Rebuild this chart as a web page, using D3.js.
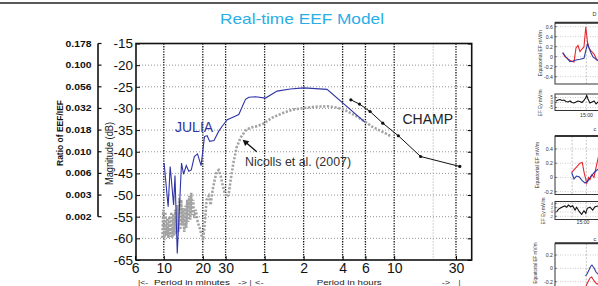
<!DOCTYPE html>
<html><head><meta charset="utf-8">
<script src="https://cdn.jsdelivr.net/npm/d3@7"></script>
<style>
body{margin:0;background:#fff;}
svg{display:block;font-family:"Liberation Sans",Arial,Helvetica,sans-serif;}
</style>
</head><body>
<svg id="c" width="598" height="286"></svg>
<script>
// ---------------- main chart data ----------------
const periodTicks = [6, 10, 20, 30, 60, 120, 240, 360, 600, 1800];          // minutes
const periodTickLabels = ["6", "10", "20", "30", "1", "2", "4", "6", "10", "30"];
const majorGridPeriods = [10, 20, 30, 60, 120, 240, 360, 600, 1800];
const minorGridPeriods = [1200];
const dbTicks = [-15, -20, -25, -30, -35, -40, -45, -50, -55, -60, -65];
const ratioDb = [-15, -20, -25, -30, -35, -40, -45, -50, -55];
const ratioLabels = ["0.178", "0.100", "0.056", "0.032", "0.018", "0.010", "0.006", "0.003", "0.002"];

const juliaPeriod = [10.05, 10.8, 11.2, 11.9, 12.2, 12.7, 13.7, 14.2, 14.9, 15.6, 16.3, 17.2, 18.2, 19.4,
  20.6, 21.6, 22.6, 24.4, 26.5, 28.4, 30.9, 34.8, 37.9, 42.7, 45.3, 51.0, 60.9, 74.9, 94.8, 120, 182, 358];
const juliaDb = [-42.6, -52.7, -43.4, -52.3, -45.5, -63.5, -42.6, -45.2, -43.2, -44.5, -44.2, -41.1, -40.5, -43.2,
  -36.5, -36.3, -37.6, -37.4, -35.3, -34.0, -32.6, -31.9, -31.4, -27.9, -27.4, -27.3, -27.6, -26.0, -25.5, -25.25, -25.6, -33.2];

const nicollsPeriod = [9.74, 9.91, 10.09, 10.27, 10.45, 10.64, 10.83, 11.02, 11.22, 11.42, 11.62, 11.83, 12.04, 12.26,
  12.48, 12.70, 12.93, 13.16, 13.40, 13.63, 13.88, 14.13, 14.38, 14.64, 14.90, 15.16, 15.44, 15.71, 16.0, 16.28,
  16.57, 16.87, 17.17, 17.64, 18.27, 18.92, 19.6, 20.1, 20.66, 21.4, 22.2, 23.0, 23.8, 24.7, 25.6, 26.5, 27.5,
  28.4, 29.5, 30.5, 31.6, 32.8, 34.5, 36.4, 39.1, 42.7, 46.7, 51.0, 58.8, 69, 84, 98, 119.3, 148, 183, 218,
  247, 274, 311, 352, 405, 467, 519, 574];
const nicollsDb = [-59.9, -53.4, -60.4, -53.9, -59.4, -55.3, -59.9, -54.9, -59.7, -53.9, -59.9, -54.4, -59.4, -53.4,
  -59.0, -52.3, -58.5, -50.7, -58.0, -51.1, -57.1, -53.0, -58.5, -52.5, -57.6, -51.1, -56.2, -50.2, -55.7, -49.5,
  -54.6, -51.1, -55.3, -53.4, -56.2, -57.6, -59.4, -60.4, -56.9, -51.1, -50.2, -52.3, -48.8, -46.5, -44.6, -44.2,
  -45.6, -47.6, -49.5, -50.4, -50.0, -46.5, -42.5, -39.1, -36.8, -35.1, -34.4, -34.2, -33.5, -32.1, -31.0, -30.3,
  -29.9, -29.6, -29.5, -29.8, -30.3, -31.0, -31.9, -32.9, -34.2, -35.1, -35.8, -36.5];

const champPeriod = [278, 324, 391, 490, 646, 960, 1926];
const champDb = [-28.0, -29.0, -30.7, -33.4, -36.3, -41.1, -43.4];

// ---------------- side panels data (minutes after 14:00) ----------------
const p1RedT = [35.1, 37.5, 40.7, 43.8, 47, 49.1, 51.2, 53.3, 55.4, 57.5, 59.4, 61.2, 62.8, 64.9, 68.1, 71.2, 74.4];
const p1RedV = [0.08, 0, -0.046, -0.086, -0.106, 0.174, 0.224, 0.104, 0.154, 0.194, 0.594, 0.294, 0.174, 0.114, 0.054, -0.066, -0.106];
const p1BlueT = [35.1, 38.6, 42.8, 45.9, 49.1, 53.3, 57.5, 59.6, 61.2, 62.8, 64.9, 67, 71.2, 74.4];
const p1BlueV = [0.08, -0.006, -0.1, -0.086, -0.066, -0.052, -0.032, 0.134, 0.254, 0.174, 0.074, -0.006, -0.066, -0.086];
const p1bT = [28.1, 30.2, 32.3, 34.4, 36.5, 38.6, 40.7, 42.8, 44.9, 47, 49.1, 51.2, 53.3, 55.4, 57.5, 59.1, 60.4, 61.7, 63.8, 65.9, 68.1, 70.2, 72.3, 74.4];
const p1bV = [1.5, 2.5, 3, 2, 2.5, 1, 0.5, 1.5, 0, -0.5, 0.5, 1.5, 1, 0, 2, 4.5, 7, 3.5, -0.5, 0.5, 1.5, -1.5, 0.5, -0.5];
const p2RedT = [44.6, 49.8, 53.3, 55.7, 57.5, 60.4, 62.3, 63.8, 66, 68, 71.5, 74.4];
const p2RedV = [0.07, 0.15, 0.2, 0.21, 0.08, -0.08, 0, -0.03, 0.04, 0, 0.22, 0.39];
const p2BlueT = [44.6, 47, 49.6, 52.3, 55.4, 58.6, 61.7, 64.9, 69.1, 74.4];
const p2BlueV = [0.07, -0.02, 0.02, 0.01, -0.04, -0.08, -0.05, 0.02, 0.08, 0.14];
const p2bT = [28.8, 30.5, 32.3, 35.1, 37.5, 39.3, 41, 43.5, 45.6, 48.1, 49.8, 52.6, 55.1, 57.5, 59.3, 61, 63.8, 66.7, 69.1, 72.6];
const p2bV = [0.14, 1.2, 1.7, 2.4, 2.8, 2.2, 3.2, 2.4, 2.9, 0.9, 2.2, 0.14, -1.1, 0.6, -0.6, 1.7, 2.2, 0.9, 2.4, 2.8];
const p3BlueT = [59.1, 60.7, 62.8, 64.4, 65.9, 68.1, 70.2, 73.3];
const p3BlueV = [-0.115, -0.085, -0.025, 0.028, 0.05, 0.005, -0.055, -0.1];
const p3RedT = [59.6, 61.7, 63.8, 65.6, 66.9, 69.1, 71.2, 73.3];
const p3RedV = [-0.265, -0.205, -0.145, -0.13, -0.16, -0.205, -0.235, -0.22];

const p1Ticks = [0.6, 0.4, 0.2, 0, -0.2, -0.4];
const p1TickLabels = ["0.6", "0.4", "0.2", "0", "-0.2", "-0.4"];
const p1bTicks = [5, 0, -5];
const p1bTickLabels = ["5", "0", "-5"];
const p2Ticks = [0.4, 0.2, 0, -0.2];
const p2TickLabels = ["0.4", "0.2", "0", "-0.2"];
const p2bTicks = [4, 2, 0, -2];
const p2bTickLabels = ["4", "2", "0", "-2"];
const p3Ticks = [0.2, 0, -0.2];
const p3TickLabels = ["0.2", "0", "-0.2"];

// ---------------- drawing ----------------
const svg = d3.select("#c");
const BLUE = "#2f35a6", GRAY = "#a3a3a3", TITLE = "#2aaee6";

// top rule
svg.append("line").attr("x1", 0).attr("x2", 598).attr("y1", 3).attr("y2", 3)
  .attr("stroke", "#222").attr("stroke-width", 1.5);

// title
svg.append("text").attr("x", 220).attr("y", 24).text("Real-time EEF Model")
  .attr("font-size", 15).attr("fill", TITLE)
  .attr("textLength", 164).attr("lengthAdjust", "spacingAndGlyphs");

const L = 136, R = 471.7, T = 43.5, B = 260;
const x = d3.scaleLog().domain([6.1, 2380]).range([L, R]);
const y = d3.scaleLinear().domain([-65, -15]).range([B, T]);

const g = svg.append("g");

// grid
g.selectAll(".hg").data(dbTicks.filter(d => d > -65 && d < -15)).join("line")
  .attr("x1", L).attr("x2", R).attr("y1", d => y(d)).attr("y2", d => y(d))
  .attr("stroke", "#8a8a8a").attr("stroke-width", 0.9).attr("stroke-dasharray", "1,2");
g.selectAll(".vgm").data(minorGridPeriods).join("line")
  .attr("x1", d => x(d)).attr("x2", d => x(d)).attr("y1", T).attr("y2", B)
  .attr("stroke", "#9a9a9a").attr("stroke-width", 0.9).attr("stroke-dasharray", "1,2");
g.selectAll(".vg").data(majorGridPeriods).join("line")
  .attr("x1", d => x(d)).attr("x2", d => x(d)).attr("y1", T).attr("y2", B)
  .attr("stroke", "#111").attr("stroke-width", 1.3).attr("stroke-dasharray", "1.3,1.3");

// lines
const line = d3.line().x(d => x(d[0])).y(d => y(d[1]));
const nic = nicollsPeriod.map((p, i) => [p, nicollsDb[i]]);
const jul = juliaPeriod.map((p, i) => [p, juliaDb[i]]);
const cha = champPeriod.map((p, i) => [p, champDb[i]]);

g.append("path").attr("d", line(nic)).attr("fill", "none").attr("stroke", GRAY)
  .attr("stroke-width", 2.6).attr("stroke-dasharray", "2.2,1.6");
g.append("path").attr("d", line(jul)).attr("fill", "none").attr("stroke", BLUE).attr("stroke-width", 1.1);
g.append("path").attr("d", line(cha)).attr("fill", "none").attr("stroke", "#111").attr("stroke-width", 1);
g.selectAll(".cm").data(cha).join("circle").attr("cx", d => x(d[0])).attr("cy", d => y(d[1]))
  .attr("r", 1.6).attr("fill", "#111");

// frame
g.append("rect").attr("x", L).attr("y", T).attr("width", R - L).attr("height", B - T)
  .attr("fill", "none").attr("stroke", "#111").attr("stroke-width", 1.6);

// axes
const yAxis = d3.axisLeft(y).tickValues(dbTicks).tickSize(-4).tickPadding(3).tickFormat(d => d);
const ya = g.append("g").attr("transform", `translate(${L},0)`).call(yAxis);
ya.select(".domain").remove();
ya.selectAll("text").attr("font-size", 13.5).attr("fill", "#111").attr("font-family", "Liberation Sans, Arial, sans-serif");
ya.selectAll("line").attr("stroke", "#111");

const yr = g.append("g").attr("transform", `translate(${R},0)`)
  .call(d3.axisRight(y).tickValues(dbTicks).tickSize(-4).tickFormat(""));
yr.select(".domain").remove();

const xAxis = d3.axisBottom(x).tickValues(periodTicks).tickSize(-4).tickPadding(3.5)
  .tickFormat((d, i) => periodTickLabels[i]);
const xa = g.append("g").attr("transform", `translate(0,${B})`).call(xAxis);
xa.select(".domain").remove();
xa.selectAll("text").attr("font-size", 14).attr("fill", "#111").attr("font-family", "Liberation Sans, Arial, sans-serif");

// ratio axis
const RX = 98;
g.append("line").attr("x1", RX).attr("x2", RX).attr("y1", y(-15)).attr("y2", y(-55))
  .attr("stroke", "#111").attr("stroke-width", 1.6);
g.selectAll(".rt").data(ratioDb).join("line").attr("x1", RX).attr("x2", RX + 3.5)
  .attr("y1", d => y(d)).attr("y2", d => y(d)).attr("stroke", "#111").attr("stroke-width", 1.2);
g.selectAll(".rl").data(ratioDb).join("text").attr("x", 65.5).attr("y", d => y(d) + 3)
  .text((d, i) => ratioLabels[i]).attr("font-size", 8.5).attr("font-weight", "bold").attr("fill", "#111")
  .attr("textLength", 26).attr("lengthAdjust", "spacingAndGlyphs");

// axis titles
svg.append("text").attr("transform", "translate(63,166) rotate(-90)").text("Ratio of EEF/IEF")
  .attr("font-size", 8.8).attr("font-weight", "bold").attr("fill", "#111")
  .attr("textLength", 66).attr("lengthAdjust", "spacingAndGlyphs");
svg.append("text").attr("transform", "translate(112.5,185) rotate(-90)").text("Magnitude (dB)")
  .attr("font-size", 10).attr("fill", "#111")
  .attr("textLength", 63).attr("lengthAdjust", "spacingAndGlyphs");

// annotations
svg.append("text").attr("x", 175).attr("y", 131.5).text("JULIA").attr("font-size", 14).attr("fill", BLUE);
svg.append("text").attr("x", 402.5).attr("y", 124).text("CHAMP").attr("font-size", 14).attr("fill", "#222");
svg.append("text").attr("x", 245).attr("y", 165.5).text("Nicolls et al. (2007)").attr("font-size", 12.4).attr("fill", "#333");
// arrow pointing to Nicolls curve
const tip = [x(40.6), y(-37.2)], tail = [x(52.1), y(-40.0)];
const ang = Math.atan2(tip[1] - tail[1], tip[0] - tail[0]);
svg.append("line").attr("x1", tail[0]).attr("y1", tail[1])
  .attr("x2", tip[0] - 4 * Math.cos(ang)).attr("y2", tip[1] - 4 * Math.sin(ang))
  .attr("stroke", "#111").attr("stroke-width", 1.3);
const ah = 6, aw = 3.2;
const bx = tip[0] - ah * Math.cos(ang), by = tip[1] - ah * Math.sin(ang);
svg.append("polygon").attr("points", [
  tip, [bx + aw * Math.sin(ang), by - aw * Math.cos(ang)], [bx - aw * Math.sin(ang), by + aw * Math.cos(ang)]
].map(p => p.join(",")).join(" ")).attr("fill", "#111");

// footer texts
const foot = svg.append("g").attr("font-size", 8).attr("fill", "#222");
function ft(x0, w, s) {
  foot.append("text").attr("x", x0).attr("y", 284.5).text(s).attr("textLength", w).attr("lengthAdjust", "spacingAndGlyphs");
}
ft(138, 10, "|<-");
ft(154, 76, "Period in minutes");
ft(238, 9, "->");
ft(249.5, 2, "|");
ft(255, 8.5, "<-");
ft(316.7, 65, "Period in hours");
ft(441.7, 8.5, "->");
ft(458.5, 2, "|");

// ---------------- side panels ----------------
const tx = d3.scaleLinear().domain([27, 127]).range([555, 650]);
function panel(top, bottom, ydom, yrng, ticks, tickLabels, series, vgrid, ylabel, ylabX, opts = {}) {
  const py = d3.scaleLinear().domain(ydom).range(yrng);
  const fs = opts.fs || 5.2;
  const pg = svg.append("g");
  pg.selectAll(".h").data(ticks).join("line").attr("x1", 555).attr("x2", 598)
    .attr("y1", d => py(d)).attr("y2", d => py(d)).attr("stroke", "#aaa").attr("stroke-width", 0.6).attr("stroke-dasharray", "1,1.5");
  pg.selectAll(".v").data(vgrid).join("line").attr("x1", d => tx(d)).attr("x2", d => tx(d))
    .attr("y1", top).attr("y2", bottom).attr("stroke", "#aaa").attr("stroke-width", 0.7).attr("stroke-dasharray", "2,1.5");
  const ln = d3.line().x(d => tx(d[0])).y(d => py(d[1]));
  series.forEach(s => {
    pg.append("path").attr("d", ln(s.t.map((t, i) => [t, s.v[i]]))).attr("fill", "none")
      .attr("stroke", s.c).attr("stroke-width", 1.1);
  });
  pg.append("rect").attr("x", 555).attr("y", top).attr("width", 60).attr("height", bottom - top)
    .attr("fill", "none").attr("stroke", "#333").attr("stroke-width", 1);
  if (opts.thickTop) pg.append("line").attr("x1", 555).attr("x2", 598).attr("y1", top).attr("y2", top)
    .attr("stroke", "#333").attr("stroke-width", 2);
  pg.selectAll(".tl").data(ticks).join("text").attr("x", 553).attr("y", d => py(d) + fs * 0.35)
    .attr("text-anchor", "end").attr("font-size", fs).attr("fill", "#333").text((d, i) => tickLabels[i]);
  pg.selectAll(".tk").data(ticks).join("line").attr("x1", 555).attr("x2", 557)
    .attr("y1", d => py(d)).attr("y2", d => py(d)).attr("stroke", "#333").attr("stroke-width", 0.6);
  const mid = (top + bottom) / 2;
  pg.append("text").attr("transform", `translate(${ylabX},${opts.labY || mid}) rotate(-90)`).attr("text-anchor", "middle")
    .attr("font-size", opts.lfs || 5.2).attr("fill", "#333").text(ylabel);
}
const RED = "#e8262d", PBLUE = "#2e3aa5";
panel(22.7, 84, [-0.4, 0.6], [76.7, 26.7], p1Ticks, p1TickLabels,
  [{t: p1RedT, v: p1RedV, c: RED}, {t: p1BlueT, v: p1BlueV, c: PBLUE}], [60], "Equatorial EF mV/m", 541.5, {thickTop: true});
panel(94, 110.5, [-5, 5], [107.5, 97.5], p1bTicks, p1bTickLabels,
  [{t: p1bT, v: p1bV, c: "#111"}], [60], "EF Ey mV/m", 542, {labY: 103, fs: 4.5, lfs: 4.8});
panel(136, 194.5, [-0.2, 0.4], [191.7, 149], p2Ticks, p2TickLabels,
  [{t: p2RedT, v: p2RedV, c: RED}, {t: p2BlueT, v: p2BlueV, c: PBLUE}], [45, 60], "Equatorial EF mV/m", 539, {thickTop: true});
panel(201.5, 219.5, [-2, 4], [216.33, 203.33], p2bTicks, p2bTickLabels,
  [{t: p2bT, v: p2bV, c: "#111"}], [45, 60], "EF Ey mV/m", 545, {labY: 211, fs: 3.8, lfs: 4.8});
panel(243.3, 300, [-0.2, 0.2], [281.7, 255], p3Ticks, p3TickLabels,
  [{t: p3BlueT, v: p3BlueV, c: PBLUE}, {t: p3RedT, v: p3RedV, c: RED}], [60], "Equatorial EF mV/m", 536.5, {thickTop: true, labY: 263, lfs: 4.6});

// small time labels & title fragments
svg.append("text").attr("x", 586.5).attr("y", 117).attr("text-anchor", "middle").attr("font-size", 5.2).attr("fill", "#333").text("15:00");
svg.append("text").attr("x", 583).attr("y", 223.5).attr("text-anchor", "middle").attr("font-size", 5.2).attr("fill", "#333").text("15:00");
svg.append("text").attr("x", 592.5).attr("y", 16).attr("font-size", 5.5).attr("fill", "#333").text("D");
svg.append("text").attr("x", 593.5).attr("y", 131).attr("font-size", 5.5).attr("fill", "#333").text("c");
svg.append("text").attr("x", 593.5).attr("y", 240.5).attr("font-size", 5.5).attr("fill", "#333").text("c");
</script>
</body></html>
